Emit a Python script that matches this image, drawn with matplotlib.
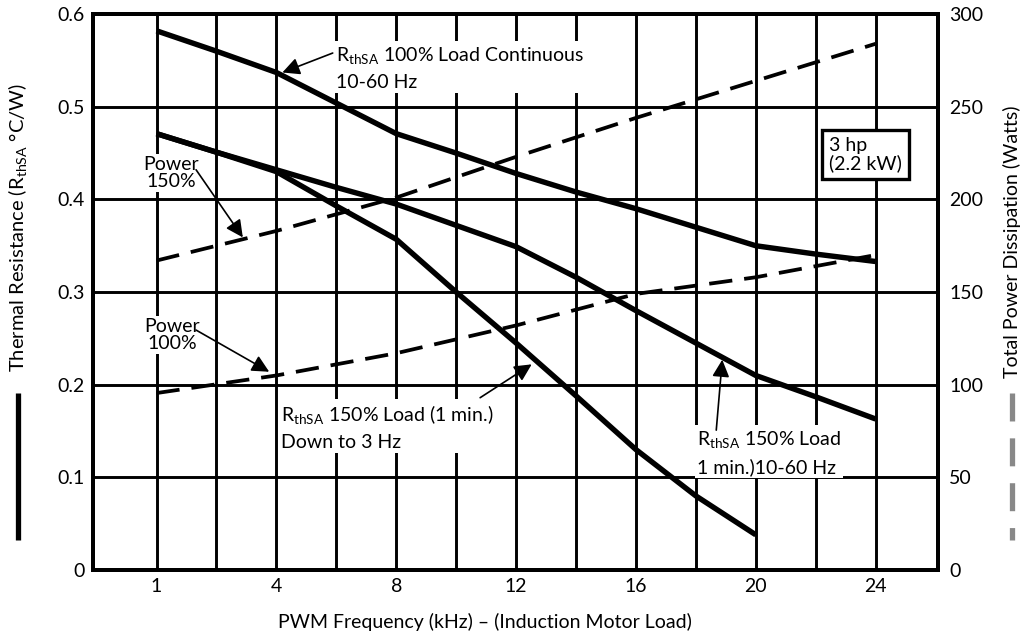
import numpy as np
import matplotlib
matplotlib.use('Agg')
import matplotlib.pyplot as plt
from matplotlib.lines import Line2D

plt.rcParams['font.family'] = ['Lato', 'DejaVu Sans']
plt.rcParams['mathtext.fontset'] = 'custom'
plt.rcParams['mathtext.rm'] = 'Lato'

# x axis categories (kHz), axis is evenly spaced per tick
freq_ticks = [1, 4, 8, 12, 16, 20, 24]
freq_grid = [1, 2.5, 4, 6, 8, 10, 12, 14, 16, 18, 20, 22, 24]

# R_thSA 100% load continuous 10-60 Hz
freq_cont = [1, 2.5, 4, 6, 8, 10, 12, 14, 16, 18, 20, 22, 24]
rth_cont = [0.582, 0.56, 0.537, 0.504, 0.471, 0.45, 0.428, 0.408, 0.39, 0.37, 0.35, 0.341, 0.333]

# R_thSA 150% load (1 min.) 10-60 Hz
freq_150 = [1, 2.5, 4, 6, 8, 10, 12, 14, 16, 18, 20, 22, 24]
rth_150 = [0.471, 0.451, 0.432, 0.413, 0.395, 0.372, 0.349, 0.316, 0.28, 0.245, 0.21, 0.187, 0.163]

# R_thSA 150% load (1 min.) down to 3 Hz
freq_3hz = [1, 2.5, 4, 6, 8, 10, 12, 14, 16, 18, 20]
rth_3hz = [0.471, 0.451, 0.43, 0.393, 0.357, 0.3, 0.245, 0.188, 0.13, 0.08, 0.038]

# power dissipation (W)
freq_pwr = [1, 4, 8, 12, 16, 20, 24]
pwr_150 = [167, 183, 201, 223, 244, 264, 284]
pwr_100 = [95.5, 105, 117, 132, 149, 158, 170]

_xs = [-2] + freq_ticks + [28]
_ix = [-1, 0, 1, 2, 3, 4, 5, 6, 7]

def fwd(x):
    return np.interp(x, _xs, _ix)

def inv(i):
    return np.interp(i, _ix, _xs)

fig = plt.figure(figsize=(10.31, 6.42), dpi=100)
ax = fig.add_axes([0.0902, 0.1121, 0.8196, 0.8659])
ax.set_xscale('function', functions=(fwd, inv))
ax.set_xlim(inv(-0.53), inv(6.52))
ax.set_ylim(0, 0.6)

# grid
for f in freq_grid:
    ax.axvline(f, color='black', lw=2.1, zorder=1)
for yv in [0.1, 0.2, 0.3, 0.4, 0.5]:
    ax.axhline(yv, color='black', lw=2.1, zorder=1)

lw_curve = 3.9
ax.plot(freq_cont, rth_cont, color='black', lw=lw_curve, zorder=5, solid_capstyle='butt')
ax.plot(freq_150, rth_150, color='black', lw=lw_curve, zorder=5, solid_capstyle='butt')
ax.plot(freq_3hz, rth_3hz, color='black', lw=lw_curve, zorder=5, solid_capstyle='butt')

ax.set_xticks(freq_ticks)
ax.set_xticklabels([str(f) for f in freq_ticks])
ax.set_yticks([0, 0.1, 0.2, 0.3, 0.4, 0.5, 0.6])
ax.set_yticklabels(['0', '0.1', '0.2', '0.3', '0.4', '0.5', '0.6'])
ax.tick_params(length=0, labelsize=14, pad=6)
for s in ax.spines.values():
    s.set_linewidth(2.8)

ax2 = ax.twinx()
ax2.set_ylim(0, 300)
ax2.set_yticks([0, 50, 100, 150, 200, 250, 300])
ax2.tick_params(length=0, labelsize=14, pad=8)
for s in ax2.spines.values():
    s.set_linewidth(2.8)
dash = (0, (6.2, 3.2))
ax2.plot(freq_pwr, pwr_150, color='black', lw=2.7, ls=dash, zorder=5)
ax2.plot(freq_pwr, pwr_100, color='black', lw=2.7, ls=dash, zorder=5)

fs = 14
box = dict(facecolor='white', edgecolor='none', pad=1.5)
arr = dict(arrowstyle='-|>', color='black', lw=1.2, mutation_scale=26, shrinkA=0, shrinkB=0)
R = r'R$_{\mathregular{thSA}}$'
ls_r = 1.5

ax.text(inv(1.50), 0.566, R + ' 100% Load Continuous\n10-60 Hz', fontsize=fs,
        ha='left', va='top', bbox=box, zorder=3, linespacing=ls_r)
ax.annotate('', xy=(inv(1.05), 0.537), xytext=(inv(1.47), 0.558), arrowprops=arr, zorder=6)

ax.text(inv(0.125), 0.447, 'Power\n150%', fontsize=fs, ha='center', va='top',
        bbox=box, zorder=3, linespacing=1.0)
ax.annotate('', xy=(inv(0.72), 0.359), xytext=(inv(0.33), 0.432), arrowprops=arr, zorder=6)

ax.text(inv(0.13), 0.272, 'Power\n100%', fontsize=fs, ha='center', va='top',
        bbox=box, zorder=3, linespacing=1.0)
ax.annotate('', xy=(inv(0.94), 0.214), xytext=(inv(0.33), 0.259), arrowprops=arr, zorder=6)

ax.text(inv(1.04), 0.180, R + ' 150% Load (1 min.)\nDown to 3 Hz', fontsize=fs,
        ha='left', va='top', bbox=box, zorder=3, linespacing=ls_r)
ax.annotate('', xy=(inv(3.13), 0.222), xytext=(inv(2.70), 0.186), arrowprops=arr, zorder=6)

ax.text(inv(4.51), 0.152, R + ' 150% Load\n1 min.)10-60 Hz', fontsize=fs,
        ha='left', va='top', bbox=box, zorder=3, linespacing=ls_r)
ax.annotate('', xy=(inv(4.72), 0.227), xytext=(inv(4.67), 0.151), arrowprops=arr, zorder=6)

ax.text(inv(5.61), 0.467, '3 hp\n(2.2 kW)', fontsize=fs, ha='left', va='top',
        bbox=dict(facecolor='white', edgecolor='black', lw=2.4, pad=5), zorder=3,
        linespacing=1.0)

# axis labels
fig.text(0.0175, 0.645, 'Thermal Resistance (' + R + ' °C/W)', rotation=90,
         ha='center', va='center', fontsize=14.5)
fig.text(0.9816, 0.624, 'Total Power Dissipation (Watts)', rotation=90,
         ha='center', va='center', fontsize=fs)
fig.text(0.470, 0.031, 'PWM Frequency (kHz) – (Induction Motor Load)',
         ha='center', va='center', fontsize=fs)

fig.add_artist(Line2D([0.0175, 0.0175], [0.388, 0.159], transform=fig.transFigure,
                      color='black', lw=3.8, solid_capstyle='butt'))
fig.add_artist(Line2D([0.9816, 0.9816], [0.388, 0.159], transform=fig.transFigure,
                      color='#888888', lw=3.8, ls=(0, (5.3, 3.2))))

fig.savefig('out.png', dpi=100)
